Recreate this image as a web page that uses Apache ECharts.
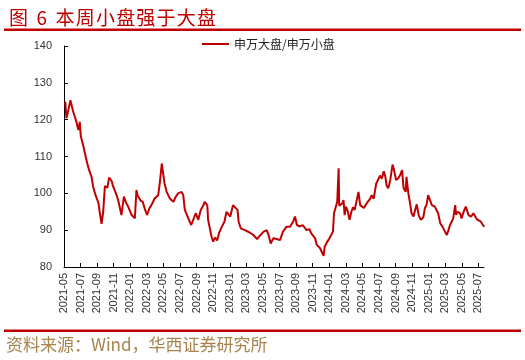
<!DOCTYPE html>
<html>
<head>
<meta charset="utf-8">
<script src="https://cdn.jsdelivr.net/npm/echarts@6/dist/echarts.min.js"></script>
<style>
html,body{margin:0;padding:0;background:#fff;}
#c{width:525px;height:360px;}
</style>
</head>
<body>
<div id="c"></div>
<script>
const titleText = '图  6  本\u200A周\u200A小\u200A盘\u200A强\u200A于\u200A大\u200A盘';
const sourceText = '资料来源：Wind，华西证券研究所';
const seriesName = '申万大盘/申万小盘';

const xTickLabels = ['2021-05','2021-07','2021-09','2021-11','2022-01','2022-03','2022-05','2022-07','2022-09','2022-11','2023-01','2023-03','2023-05','2023-07','2023-09','2023-11','2024-01','2024-03','2024-05','2024-07','2024-09','2024-11','2025-01','2025-03','2025-05','2025-07'];
const yMin = 80, yMax = 140, yStep = 10;

const dates = [
'2021-05-06','2021-05-10','2021-05-14','2021-05-25','2021-06-04','2021-06-14','2021-06-23','2021-06-28','2021-07-02','2021-07-12',
'2021-07-16','2021-07-26','2021-08-02','2021-08-11','2021-08-17','2021-08-26','2021-09-06','2021-09-10','2021-09-17','2021-09-23',
'2021-09-29','2021-10-08','2021-10-15','2021-10-25','2021-10-29','2021-11-09','2021-11-17','2021-11-29','2021-12-08','2021-12-17',
'2021-12-24','2022-01-06','2022-01-18','2022-01-24','2022-01-28','2022-02-08','2022-02-15','2022-02-23','2022-03-02','2022-03-10',
'2022-03-18','2022-03-30','2022-04-12','2022-04-18','2022-04-25','2022-05-05','2022-05-13','2022-05-25','2022-06-07','2022-06-15',
'2022-06-24','2022-07-07','2022-07-13','2022-07-19','2022-08-01','2022-08-12','2022-08-19','2022-08-29','2022-09-07','2022-09-16',
'2022-09-26','2022-09-30','2022-10-10','2022-10-13','2022-10-26','2022-11-01','2022-11-08','2022-11-15','2022-11-22','2022-12-02',
'2022-12-12','2022-12-20','2023-01-03','2023-01-13','2023-01-30','2023-02-03','2023-02-10','2023-02-24','2023-03-10','2023-03-27',
'2023-04-10','2023-04-20','2023-05-04','2023-05-15','2023-05-23','2023-05-30','2023-06-09','2023-06-21','2023-07-03','2023-07-14',
'2023-07-27','2023-08-09','2023-08-21','2023-08-28','2023-09-04','2023-09-15','2023-09-25','2023-10-09','2023-10-13','2023-10-20',
'2023-10-27','2023-11-10','2023-11-16','2023-11-28','2023-12-04','2023-12-11','2023-12-15','2023-12-25','2024-01-02','2024-01-05',
'2024-01-15','2024-01-19','2024-01-26','2024-01-31','2024-02-05','2024-02-07','2024-02-19','2024-02-22','2024-02-26','2024-03-01',
'2024-03-08','2024-03-15','2024-03-22','2024-03-28','2024-04-03','2024-04-11','2024-04-17','2024-04-23','2024-04-29','2024-05-07',
'2024-05-17','2024-05-29','2024-06-05','2024-06-12','2024-06-21','2024-06-28','2024-07-05','2024-07-12','2024-07-19','2024-07-25',
'2024-07-30','2024-08-05','2024-08-12','2024-08-21','2024-08-26','2024-09-03','2024-09-11','2024-09-18','2024-09-25','2024-09-30',
'2024-10-08','2024-10-11','2024-10-18','2024-10-24','2024-10-30','2024-11-06','2024-11-12','2024-11-18','2024-11-25','2024-12-03',
'2024-12-12','2024-12-18','2024-12-24','2024-12-30','2025-01-06','2025-01-13','2025-01-24','2025-02-05','2025-02-12','2025-02-20',
'2025-02-27','2025-03-07','2025-03-13','2025-03-19','2025-03-26','2025-03-31','2025-04-07','2025-04-10','2025-04-16','2025-04-25',
'2025-04-30','2025-05-09','2025-05-16','2025-05-26','2025-06-05','2025-06-13','2025-06-19','2025-06-25','2025-07-02','2025-07-10',
'2025-07-17','2025-07-23'
];
const ratio = [
124.9,120.4,121.5,125.3,122.2,119.9,117.2,119.4,115.4,112.7,
111.3,108.1,106.3,104.5,101.8,99.5,97.3,95.0,91.7,95.0,
102.0,101.5,104.3,103.2,102.0,100.0,98.2,94.1,99.1,97.3,
96.4,94.1,93.2,100.9,99.5,98.0,97.7,95.5,94.1,95.9,
96.8,98.6,99.5,103.0,108.1,102.7,100.4,98.6,97.7,99.0,
100.0,100.4,99.5,95.5,93.2,91.4,90.9,94.6,92.8,95.5,
96.8,97.7,96.8,92.8,88.2,86.9,88.0,87.2,89.1,90.9,
92.3,95.0,93.7,96.8,95.5,92.3,90.5,90.0,89.5,88.7,
87.6,88.5,89.6,90.0,88.5,86.4,87.8,87.6,87.3,89.6,
90.9,90.9,92.3,93.7,91.4,91.0,91.4,90.0,89.5,90.3,
89.1,87.8,86.0,85.1,84.6,83.0,85.5,86.9,87.8,87.3,
89.6,94.6,94.2,97.7,106.8,96.6,97.4,98.2,94.1,96.4,
95.2,92.8,95.0,96.2,95.5,98.2,100.4,96.8,96.4,96.0,
97.3,98.4,99.5,98.5,102.6,103.0,104.8,104.0,106.0,104.5,
102.0,101.4,103.5,107.8,106.5,103.6,104.1,105.0,106.3,101.5,
100.4,104.5,100.0,97.5,94.6,93.7,95.5,97.0,94.0,92.8,
93.5,96.0,96.8,99.5,99.3,96.8,96.4,94.6,91.9,90.9,
89.8,88.7,90.0,91.4,91.8,93.2,96.8,94.2,95.0,94.5,
93.2,95.2,96.4,94.1,93.7,94.6,94.8,93.0,93.3,92.3,
91.8,90.9
];

// month offset from 2021-05 (axis unit = one month)
function monthIndex(s){
  const p = s.split('-').map(Number);
  const dim = new Date(p[0], p[1], 0).getDate();
  return (p[0]-2021)*12 + (p[1]-5) + (p[2]-1)/dim;
}
const axisEnd = monthIndex('2025-07-22');
const tickValues = xTickLabels.map((l)=>monthIndex(l+'-01'));
const lineData = dates.map((d,i)=>[monthIndex(d), ratio[i]]);

const RED = '#C00000';
const chart = echarts.init(document.getElementById('c'), null, {renderer:'canvas'});
chart.setOption({
  animation:false,
  backgroundColor:'#fff',
  title:{
    text:titleText, left:4, top:3,
    textStyle:{color:RED, fontSize:19, fontWeight:'normal', fontFamily:'"Noto Sans CJK SC"'}
  },
  legend:{
    data:[seriesName], left:197, top:33,
    icon:'rect', itemWidth:27, itemHeight:2, itemGap:6,
    textStyle:{fontSize:12, color:'#222', fontFamily:'"Noto Sans CJK SC"'}
  },
  graphic:[
    {type:'rect', shape:{x:4, y:28.5, width:517, height:2.5}, style:{fill:RED}, silent:true},
    {type:'rect', shape:{x:4, y:329.5, width:517, height:2.5}, style:{fill:RED}, silent:true},
    {type:'text', left:6, top:336, style:{text:sourceText, fill:'#A8844C', fontSize:17, fontFamily:'"Noto Sans CJK SC"'}, silent:true}
  ],
  grid:{left:64, right:41, top:46, bottom:93, containLabel:false},
  xAxis:{
    type:'value', min:0, max:axisEnd,
    axisLine:{show:true, lineStyle:{color:'#000', width:1}},
    axisTick:{show:true, inside:true, length:4, customValues:tickValues, lineStyle:{color:'#000'}},
    axisLabel:{
      customValues:tickValues, rotate:90, margin:6, fontSize:11, color:'#333',
      fontFamily:'"Liberation Sans", Arial, sans-serif',
      formatter:function(v){
        const i = tickValues.findIndex(t=>Math.abs(t-v)<1e-6);
        return i>=0 ? xTickLabels[i] : '';
      }
    },
    splitLine:{show:false}
  },
  yAxis:{
    type:'value', min:yMin, max:yMax, interval:yStep,
    axisLine:{show:true, lineStyle:{color:'#000', width:1}},
    axisTick:{show:true, inside:true, length:4, lineStyle:{color:'#000'}},
    axisLabel:{fontSize:11, color:'#333', margin:12, fontFamily:'"Liberation Sans", Arial, sans-serif'},
    splitLine:{show:false}
  },
  series:[{
    name:seriesName, type:'line', data:lineData,
    showSymbol:false, symbol:'none',
    lineStyle:{color:RED, width:2}, itemStyle:{color:RED}
  }]
});
</script>
</body>
</html>
